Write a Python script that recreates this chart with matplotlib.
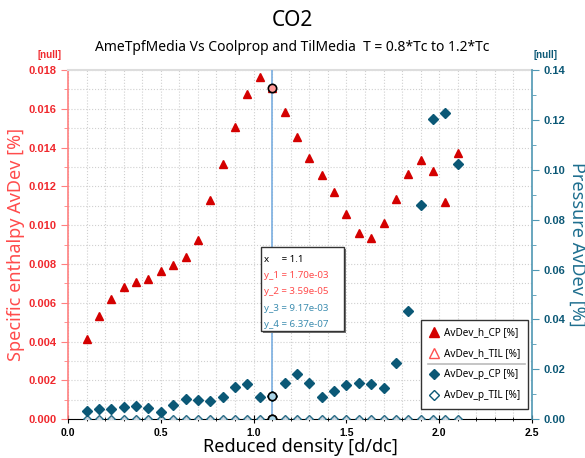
import numpy as np
import matplotlib
matplotlib.use("Agg")
import matplotlib.pyplot as plt
from matplotlib.ticker import MultipleLocator, FormatStrFormatter
from matplotlib.lines import Line2D

plt.rcParams["font.family"] = ["Noto Sans", "DejaVu Sans"]

# Reduced density values (d/dc)
density = [0.1, 0.1667, 0.2333, 0.3, 0.3667, 0.4333, 0.5, 0.5667, 0.6333, 0.7,
           0.7667, 0.8333, 0.9, 0.9667, 1.0333, 1.1, 1.1667, 1.2333, 1.3, 1.3667,
           1.4333, 1.5, 1.5667, 1.6333, 1.7, 1.7667, 1.8333, 1.9, 1.9667, 2.0333, 2.1]

avdev_h_cp = [0.00413, 0.00533, 0.00622, 0.00681, 0.00707, 0.00725, 0.00766, 0.00797, 0.00837, 0.00925,
              0.01131, 0.01315, 0.01508, 0.01674, 0.01762, 0.01707, 0.01581, 0.01454, 0.01346, 0.01258,
              0.01169, 0.01059, 0.00961, 0.00935, 0.01011, 0.01133, 0.01265, 0.01337, 0.01281, 0.01121, 0.01373]

avdev_h_til = [3.6e-05, 3.5e-05, 3.6e-05, 3.6e-05, 3.5e-05, 3.6e-05, 3.6e-05, 3.5e-05, 3.6e-05, 3.6e-05,
               3.6e-05, 3.5e-05, 3.6e-05, 3.6e-05, 3.6e-05, 3.59e-05, 3.6e-05, 3.5e-05, 3.6e-05, 3.6e-05,
               3.6e-05, 3.5e-05, 3.6e-05, 3.6e-05, 3.6e-05, 3.5e-05, 3.6e-05, 3.6e-05, 3.6e-05, 3.5e-05, 3.6e-05]

avdev_p_cp = [0.0032, 0.0041, 0.0041, 0.0049, 0.0053, 0.0045, 0.0031, 0.0057, 0.0081, 0.0077,
              0.0072, 0.0088, 0.0128, 0.0143, 0.0088, 0.00917, 0.0147, 0.0182, 0.0147, 0.0091,
              0.0115, 0.0138, 0.0144, 0.0140, 0.0126, 0.0227, 0.0433, 0.0857, 0.1205, 0.1226, 0.1024]

avdev_p_til = [6.4e-07, 6.3e-07, 6.4e-07, 6.4e-07, 6.3e-07, 6.4e-07, 6.4e-07, 6.3e-07, 6.4e-07, 6.4e-07,
               6.4e-07, 6.3e-07, 6.4e-07, 6.4e-07, 6.4e-07, 6.37e-07, 6.4e-07, 6.3e-07, 6.4e-07, 6.4e-07,
               6.4e-07, 6.3e-07, 6.4e-07, 6.4e-07, 6.4e-07, 6.3e-07, 6.4e-07, 6.4e-07, 6.4e-07, 6.3e-07, 6.4e-07]

cursor_x = 1.1
cursor_idx = density.index(cursor_x)
cursor_labels = ["x     = 1.1", "y_1 = 1.70e-03", "y_2 = 3.59e-05", "y_3 = 9.17e-03", "y_4 = 6.37e-07"]

RED = "#d40000"
RED_TXT = "#f0282d"
RED_LABEL = "#ff4b4b"
TEAL = "#0b5876"
TEAL_TXT = "#1f6f8f"
TEAL_AX = "#4f97b3"
BOLD_FONT = ["Liberation Sans", "DejaVu Sans"]

fig = plt.figure(figsize=(5.85, 4.58), dpi=100)
ax = fig.add_axes([0.1162, 0.0845, 0.7932, 0.7627])
ax2 = ax.twinx()

# data
ax.plot(density, avdev_h_cp, linestyle="none", marker="^", ms=6, color=RED, mec=RED, zorder=3)
ax.plot(density, avdev_h_til, linestyle="none", marker="^", ms=5, mfc="white", mec="#ff5050", mew=1.0, zorder=4)
ax2.plot(density, avdev_p_cp, linestyle="none", marker="D", ms=5, color=TEAL, mec=TEAL, zorder=3)
ax2.plot(density, avdev_p_til, linestyle="none", marker="D", ms=4.5, mfc="#bfe3ef", mec=TEAL, mew=1.0, alpha=0.85, zorder=2)

# axes ranges / ticks
ax.set_xlim(0, 2.5)
ax.set_ylim(0, 0.018)
ax2.set_ylim(0, 0.14)
ax.xaxis.set_major_locator(MultipleLocator(0.5))
ax.xaxis.set_minor_locator(MultipleLocator(0.1))
ax.yaxis.set_major_locator(MultipleLocator(0.002))
ax.yaxis.set_minor_locator(MultipleLocator(0.001))
ax2.yaxis.set_major_locator(MultipleLocator(0.02))
ax2.yaxis.set_minor_locator(MultipleLocator(0.01))
ax.xaxis.set_major_formatter(FormatStrFormatter("%.1f"))
ax.yaxis.set_major_formatter(FormatStrFormatter("%.3f"))
ax2.yaxis.set_major_formatter(FormatStrFormatter("%.2f"))

ax.grid(True, which="both", linestyle=":", color="#d0d0d0", linewidth=0.8)
ax.set_axisbelow(True)

ax.tick_params(axis="x", which="both", direction="inout", colors="black", labelsize=7.5)
ax.tick_params(axis="x", which="major", length=6)
ax.tick_params(axis="x", which="minor", length=3)
ax.tick_params(axis="y", which="both", colors="#ff8080", labelcolor=RED_TXT, labelsize=8)
ax.tick_params(axis="y", which="major", length=5)
ax.tick_params(axis="y", which="minor", length=3)
ax2.tick_params(axis="y", which="both", colors=TEAL_AX, labelcolor=TEAL, labelsize=8)
ax2.tick_params(axis="y", which="major", length=5)
ax2.tick_params(axis="y", which="minor", length=3)
for lbl in ax.get_xticklabels() + ax.get_yticklabels() + ax2.get_yticklabels():
    lbl.set_fontweight("bold")
    lbl.set_family(BOLD_FONT)

ax.spines["left"].set_color("#ff8080")
ax.spines["left"].set_linewidth(1.2)
ax.spines["bottom"].set_color("black")
ax.spines["top"].set_color("#dddddd")
ax.spines["top"].set_linewidth(1.5)
ax.spines["right"].set_visible(False)
ax2.spines["left"].set_visible(False)
ax2.spines["bottom"].set_visible(False)
ax2.spines["top"].set_visible(False)
ax2.spines["right"].set_color(TEAL_AX)
ax2.spines["right"].set_linewidth(1.2)

ax.set_xlabel("Reduced density [d/dc]", fontsize=13, labelpad=0)
ax.set_ylabel("Specific enthalpy AvDev [%]", fontsize=13, color=RED_LABEL, labelpad=2)
ax2.set_ylabel("Pressure AvDev [%]", fontsize=13, color=TEAL_TXT, rotation=-90, labelpad=15)

fig.text(0.5, 0.955, "CO2", ha="center", va="center", fontsize=15)
fig.text(0.5, 0.897, "AmeTpfMedia Vs Coolprop and TilMedia  T = 0.8*Tc to 1.2*Tc",
         ha="center", va="center", fontsize=10)
fig.text(0.085, 0.879, "[null]", ha="center", va="center", fontsize=7, fontweight="bold",
         family=BOLD_FONT, color=RED_TXT)
fig.text(0.933, 0.879, "[null]", ha="center", va="center", fontsize=7, fontweight="bold",
         family=BOLD_FONT, color=TEAL)

# cursor line and highlighted points
ax.axvline(cursor_x, color="#7aaee0", linewidth=1.2, zorder=5)
ax.plot(cursor_x, avdev_h_cp[cursor_idx], marker="o", ms=6, mfc="#ff9a9a", mec="black", mew=1.2, zorder=6)
ax.plot(cursor_x, avdev_h_til[cursor_idx], marker="o", ms=6, mfc="#f7b7b7", mec="black", mew=1.2, zorder=6)
ax2.plot(cursor_x, avdev_p_cp[cursor_idx], marker="o", ms=6, mfc="#a9d3e6", mec="black", mew=1.2, zorder=6)
ax2.plot(cursor_x, avdev_p_til[cursor_idx], marker="o", ms=6, mfc="#a9d3e6", mec="black", mew=1.2, zorder=7)

# tooltip box
cursor_colors = ["black", RED_LABEL, RED_LABEL, "#3d8db0", "#3d8db0"]
box_x, box_top, box_w, box_h = 0.446, 0.461, 0.142, 0.183
shadow = plt.Rectangle((box_x + 0.004, box_top - box_h - 0.005), box_w, box_h, transform=fig.transFigure,
                       facecolor="#777777", edgecolor="none", zorder=8)
box = plt.Rectangle((box_x, box_top - box_h), box_w, box_h, transform=fig.transFigure,
                    facecolor="white", edgecolor="#333333", linewidth=1.0, zorder=9)
fig.add_artist(shadow)
fig.add_artist(box)
for i, (txt, col) in enumerate(zip(cursor_labels, cursor_colors)):
    fig.text(box_x + 0.005, box_top - 0.028 - i * 0.0352, txt, fontsize=7, color=col,
             va="center", ha="left", zorder=10)

# legend
handles = [
    Line2D([], [], linestyle="none", marker="^", ms=6.5, color=RED),
    Line2D([], [], linestyle="none", marker="^", ms=6.5, mfc="white", mec="#ff5050", mew=1.0),
    Line2D([], [], linestyle="none", marker="D", ms=5.5, color=TEAL),
    Line2D([], [], linestyle="none", marker="D", ms=5.5, mfc="white", mec=TEAL, mew=1.0),
]
labels = ["AvDev_h_CP [%]", "AvDev_h_TIL [%]", "AvDev_p_CP [%]", "AvDev_p_TIL [%]"]
leg = ax2.legend(handles, labels, loc="lower right", bbox_to_anchor=(0.991, 0.03), borderaxespad=0,
                 fontsize=7.2, frameon=True, fancybox=False, edgecolor="#333333", framealpha=1.0,
                 handletextpad=0.5, labelspacing=1.0, borderpad=0.75, handlelength=1.0)
leg.get_frame().set_linewidth(1.0)
leg.set_zorder(10)

fig.canvas.draw()
bb = leg.get_window_extent().transformed(fig.transFigure.inverted())
ymid = bb.y0 + bb.height * 0.5
fig.add_artist(Line2D([bb.x0 + 0.012, bb.x1 - 0.005], [ymid, ymid], transform=fig.transFigure,
                      color="#bbbbbb", linewidth=1.2, zorder=11))

fig.savefig("out.png", dpi=100)
